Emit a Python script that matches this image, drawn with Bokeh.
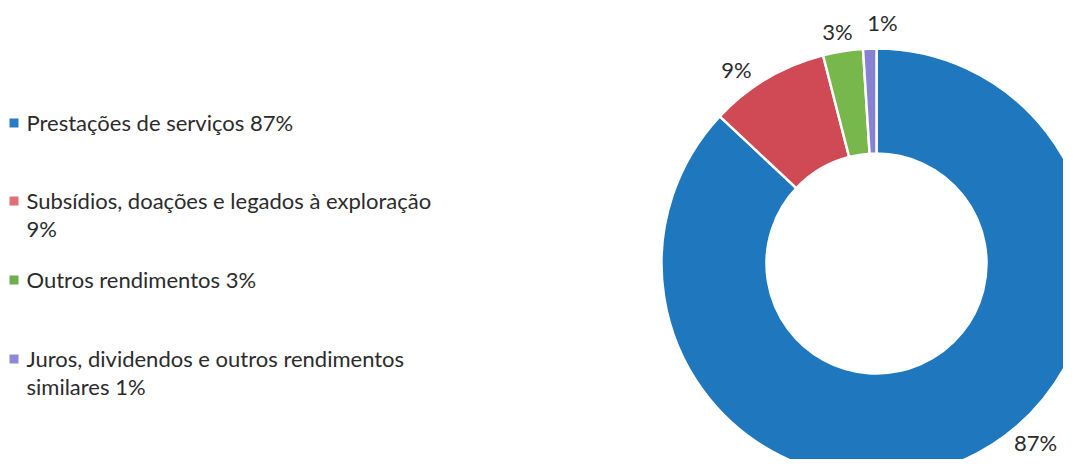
import math
from bokeh.plotting import figure
from bokeh.models import Range1d, ColumnDataSource
from bokeh.core.properties import value
from bokeh.embed import file_html
from bokeh.resources import INLINE

# ---- data ----
categories = [
    "Prestações de serviços",
    "Subsídios, doações e legados à exploração",
    "Outros rendimentos",
    "Juros, dividendos e outros rendimentos similares",
]
shares = [87, 9, 3, 1]
legend_labels = [
    "Prestações de serviços 87%",
    "Subsídios, doações e legados à exploração\n9%",
    "Outros rendimentos 3%",
    "Juros, dividendos e outros rendimentos\nsimilares 1%",
]
slice_labels = ["87%", "9%", "3%", "1%"]
slice_colors = ["#1f78bd", "#cf4a55", "#78b74c", "#8681d3"]
legend_colors = ["#2a7cc2", "#df6f78", "#6eae4e", "#8d89d6"]

# ---- layout ----
W, H = 1063, 459
FONT = "Lato"
FS = "22px"
TXT = "#2b2b2b"


def fx(rx):  # reference x -> data x
    return rx


def fy(ry):  # reference y -> data y
    return H - ry


p = figure(width=W, height=H, output_backend="svg", toolbar_location=None,
           x_range=Range1d(0, W), y_range=Range1d(0, H), min_border=0)
p.axis.visible = False
p.grid.visible = False
p.outline_line_color = None
p.background_fill_color = "white"

cx, cy = fx(876), fy(263)
r_out, r_in = 215, 110

total = sum(shares)
starts, ends = [], []
cum = 0.0
for s in shares:
    starts.append(math.pi / 2 - 2 * math.pi * cum / total)
    cum += s
    ends.append(math.pi / 2 - 2 * math.pi * cum / total)

src = ColumnDataSource(dict(start=starts, end=ends, color=slice_colors))
p.annular_wedge(x=cx, y=cy, inner_radius=r_in, outer_radius=r_out,
                start_angle="start", end_angle="end", direction="clock",
                fill_color="color", line_color="white", line_width=2.5, source=src)

# slice labels (positions as layout anchors)
label_pos = [(1035, 442), (736, 69), (837, 31), (882, 22)]
p.text(x=[fx(a) for a, b in label_pos], y=[fy(b) for a, b in label_pos],
       text=slice_labels, text_font=value(FONT), text_font_size=FS,
       text_color=TXT, text_align="center", text_baseline="middle")

# legend
baselines = [131, 209, 288, 367]
line_gap = 28
lx, ly, lt = [], [], []
for lab, b in zip(legend_labels, baselines):
    for i, part in enumerate(lab.split("\n")):
        lx.append(fx(26))
        ly.append(fy(b + i * line_gap - 9.5))
        lt.append(part)
p.text(x=lx, y=ly, text=lt, text_font=value(FONT), text_font_size=FS,
       text_color=TXT, text_align="left", text_baseline="middle")

p.scatter(x=[fx(13.5)] * len(categories), y=[fy(b - 8.5) for b in baselines],
          size=9, marker="square", fill_color=legend_colors, line_color=None)

open("out.html", "w").write(file_html(p, INLINE))
